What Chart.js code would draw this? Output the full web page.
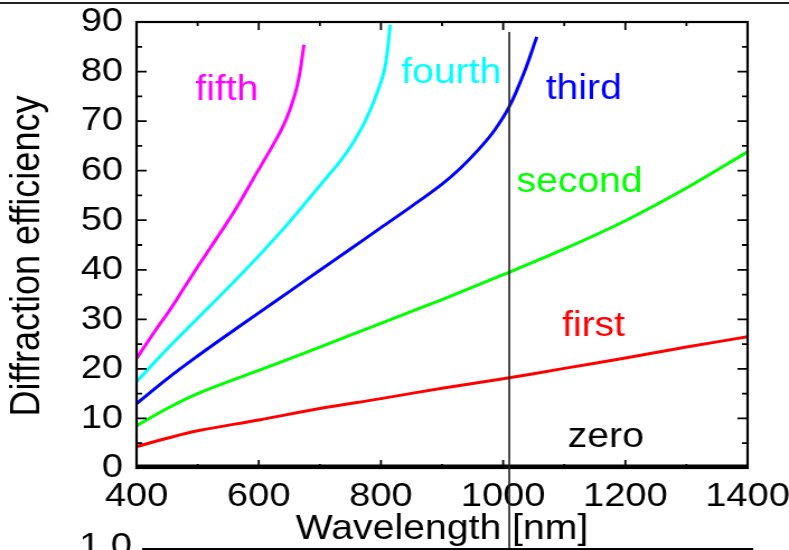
<!DOCTYPE html>
<html>
<head>
<meta charset="utf-8">
<title>Diffraction efficiency</title>
<script src="https://cdn.jsdelivr.net/npm/chart.js@4.4.1/dist/chart.umd.min.js"></script>
<style>
  html, body { margin: 0; padding: 0; background: #fff; overflow: hidden; }
  /* the original figure is a bit wider than tall, stretch the drawing a little */
  #wrap { width: 705px; height: 550px; transform: scaleX(1.1191); transform-origin: 0 0; }
</style>
</head>
<body>
<div id="wrap"><canvas id="chart"></canvas></div>
<script>
// axis ticks
const xTickValues = [400, 600, 800, 1000, 1200, 1400];
const xMinorValues = [500, 700, 900, 1100, 1300];
const yTickValues = [0, 10, 20, 30, 40, 50, 60, 70, 80, 90];
const yMinorValues = [5, 15, 25, 35, 45, 55, 65, 75, 85];

// series (wavelength nm, efficiency)
const zeroWl = [400, 600, 800, 1000, 1200, 1400];
const zeroEff = [0.4, 0.4, 0.4, 0.4, 0.4, 0.4];

const firstWl = [400, 450, 500, 600, 700, 800, 900, 1000, 1100, 1200, 1300, 1400];
const firstEff = [4.3, 6.0, 7.5, 9.7, 12.0, 14.0, 16.1, 18.0, 20.1, 22.2, 24.4, 26.5];

const secondWl = [400, 450, 500, 600, 700, 800, 900, 1000, 1100, 1200, 1300, 1400];
const secondEff = [8.5, 12.0, 15.0, 19.7, 24.4, 29.2, 34.0, 39.0, 44.2, 49.9, 56.5, 63.8];

const thirdWl = [400, 450, 500, 550, 600, 650, 700, 750, 800, 850, 900, 930, 960, 985, 1010, 1035, 1055];
const thirdEff = [13.0, 18.0, 22.6, 27.0, 31.3, 35.6, 39.9, 44.2, 48.5, 52.8, 57.3, 60.5, 64.3, 68.0, 72.9, 80.0, 87.0];

const fourthWl = [400, 450, 500, 550, 600, 650, 700, 740, 770, 790, 805, 811, 815];
const fourthEff = [17.4, 24.0, 30.2, 36.4, 42.8, 49.6, 57.0, 63.0, 69.0, 74.5, 80.0, 84.5, 89.4];

const fifthWl = [400, 430, 455, 476, 500, 520, 558, 596, 629, 645, 659, 667, 674];
const fifthEff = [22.1, 27.6, 32.0, 36.0, 40.6, 44.3, 51.4, 59.4, 66.4, 70.4, 75.3, 79.6, 85.4];

// order labels and the marker line
const orderNames = ['zero', 'first', 'second', 'third', 'fourth', 'fifth'];
const orderColors = ['#000000', '#ff0000', '#00ff00', '#0000ff', '#00ffff', '#ff00ff'];
const labelWl = [1168, 1148, 1125, 1132, 915, 548];
const labelEff = [4.2, 26.6, 55.7, 74.4, 77.7, 74.3];
const markerWl = 1010;
const markerTop = 88;

const FONT = "'Liberation Sans', Arial, sans-serif";

function pts(wl, eff) {
  return wl.map((w, i) => ({ x: w, y: eff[i] }));
}

const series = [
  [zeroWl, zeroEff], [firstWl, firstEff], [secondWl, secondEff],
  [thirdWl, thirdEff], [fourthWl, fourthEff], [fifthWl, fifthEff]
];

const datasets = series.map((s, i) => ({
  label: orderNames[i],
  data: pts(s[0], s[1]),
  borderColor: orderColors[i],
  borderWidth: 3,
  pointRadius: 0,
  tension: 0.35,
  fill: false
}));

// frame, inward ticks, labels and the bits of the neighbouring figures
const framePlugin = {
  id: 'frame',
  afterDraw(chart) {
    const { ctx, chartArea: a, scales: { x, y } } = chart;
    ctx.save();
    ctx.strokeStyle = '#000';

    // ticks on all four sides, pointing in
    ctx.lineWidth = 1.8;
    ctx.beginPath();
    xTickValues.concat(xMinorValues).forEach(v => {
      const px = x.getPixelForValue(v);
      const len = xTickValues.includes(v) ? 8 : 4;
      ctx.moveTo(px, a.bottom); ctx.lineTo(px, a.bottom - len);
      ctx.moveTo(px, a.top); ctx.lineTo(px, a.top + len);
    });
    yTickValues.concat(yMinorValues).forEach(v => {
      const py = y.getPixelForValue(v);
      const len = yTickValues.includes(v) ? 9 : 5;
      ctx.moveTo(a.left, py); ctx.lineTo(a.left + len, py);
      ctx.moveTo(a.right, py); ctx.lineTo(a.right - len, py);
    });
    ctx.stroke();

    ctx.lineWidth = 2.2;
    ctx.strokeRect(a.left, a.top, a.right - a.left, a.bottom - a.top);

    // vertical marker line
    const mx = x.getPixelForValue(markerWl);
    ctx.strokeStyle = '#222';
    ctx.lineWidth = 1.6;
    ctx.beginPath();
    ctx.moveTo(mx, y.getPixelForValue(markerTop));
    ctx.lineTo(mx, chart.height);
    ctx.stroke();

    // order names
    ctx.font = '35px ' + FONT;
    ctx.textAlign = 'center';
    ctx.textBaseline = 'alphabetic';
    orderNames.forEach((n, i) => {
      ctx.fillStyle = orderColors[i];
      ctx.fillText(n, x.getPixelForValue(labelWl[i]), y.getPixelForValue(labelEff[i]));
    });

    // y axis title, sits a little below the middle in the original
    ctx.fillStyle = '#000';
    ctx.font = '36px ' + FONT;
    ctx.textBaseline = 'middle';
    ctx.translate(25.5, 256);
    ctx.rotate(-Math.PI / 2);
    ctx.fillText('Diffraction efficiency', 0, 0);
    ctx.setTransform(1, 0, 0, 1, 0, 0);

    // edge of the figure above and the top of the one below
    ctx.fillStyle = '#222';
    ctx.fillRect(0, 2, chart.width, 2);
    ctx.strokeStyle = '#000';
    ctx.lineWidth = 2;
    ctx.beginPath();
    ctx.moveTo(127, 549);
    ctx.lineTo(673, 549);
    ctx.stroke();
    ctx.fillStyle = '#000';
    ctx.font = '34px ' + FONT;
    ctx.textAlign = 'right';
    ctx.fillText('1.0', 118, 547);
    ctx.restore();
  }
};

new Chart(document.getElementById('chart'), {
  type: 'line',
  data: { datasets: datasets },
  options: {
    responsive: true,
    maintainAspectRatio: false,
    animation: false,
    layout: { padding: { top: 22, right: 37, bottom: 0, left: 0 } },
    plugins: { legend: { display: false }, tooltip: { enabled: false } },
    scales: {
      x: {
        type: 'linear',
        min: 400,
        max: 1400,
        grid: { display: false, drawTicks: false },
        border: { display: false },
        afterBuildTicks: s => { s.ticks = xTickValues.map(v => ({ value: v })); },
        afterFit: s => { s.height = 82; s.paddingLeft = 0; s.paddingRight = 0; },
        ticks: { color: '#000', font: { family: FONT, size: 34 }, padding: 8, maxRotation: 0, autoSkip: false,
          callback: v => String(v) },
        title: { display: true, text: 'Wavelength [nm]', color: '#000', font: { family: FONT, size: 35 }, padding: { top: 0, bottom: 0 } }
      },
      y: {
        type: 'linear',
        min: 0,
        max: 90,
        grid: { display: false, drawTicks: false },
        border: { display: false },
        afterBuildTicks: s => { s.ticks = yTickValues.map(v => ({ value: v })); },
        afterFit: s => { s.width = 122; s.paddingTop = 0; s.paddingBottom = 0; },
        ticks: { color: '#000', font: { family: FONT, size: 34 }, padding: 12, autoSkip: false,
          callback: v => String(v) }
      }
    }
  },
  plugins: [framePlugin]
});
</script>
</body>
</html>
